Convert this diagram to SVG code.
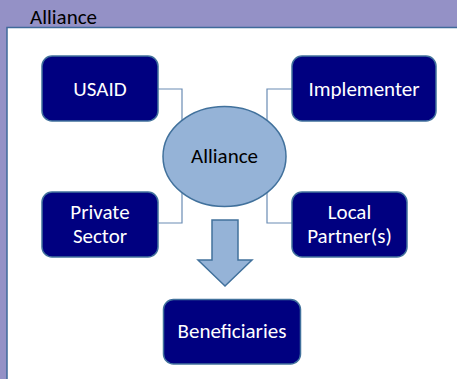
<svg xmlns="http://www.w3.org/2000/svg" width="457" height="379" viewBox="0 0 457 379">
<style>
.box{fill:#000080;stroke:#41719C;stroke-width:1.5}
.lbl{font-family:Calibri,"Carlito","Liberation Sans",sans-serif;font-size:21px;fill:#ffffff;text-anchor:middle}
.conn{fill:none;stroke:#6A8CB4;stroke-width:1.2}
</style>
<rect x="0" y="0" width="457" height="379" fill="#9491C6"/>
<rect x="7" y="27.5" width="455" height="360" fill="#ffffff" stroke="#3F6A9A" stroke-width="1.5"/>
<text x="30" y="24" font-family="Calibri,'Carlito','Liberation Sans',sans-serif" font-size="21" fill="#000000">Alliance</text>
<g id="connectors">
<polyline class="conn" points="158,89 182,89 182,121"/>
<polyline class="conn" points="158,223 182,223 182,192"/>
<polyline class="conn" points="292,89 267,89 267,121"/>
<polyline class="conn" points="292,223 267,223 267,192"/>
</g>
<g id="usaid">
<rect class="box" x="42" y="56" width="116" height="65" rx="10"/>
<text class="lbl" x="100" y="96">USAID</text>
</g>
<g id="implementer">
<rect class="box" x="292" y="56" width="144" height="65" rx="10"/>
<text class="lbl" x="364" y="96">Implementer</text>
</g>
<g id="private">
<rect class="box" x="42" y="192" width="116" height="65" rx="10"/>
<text class="lbl" x="100" y="219">Private</text>
<text class="lbl" x="100" y="243">Sector</text>
</g>
<g id="local">
<rect class="box" x="292" y="192" width="115" height="65" rx="10"/>
<text class="lbl" x="349.5" y="219">Local</text>
<text class="lbl" x="349.5" y="243">Partner(s)</text>
</g>
<g id="alliance">
<ellipse cx="224.5" cy="156.5" rx="61.5" ry="50" fill="#95B3D7" stroke="#41719C" stroke-width="1.5"/>
<text x="224.5" y="163" font-family="Calibri,'Carlito','Liberation Sans',sans-serif" font-size="21" fill="#000000" text-anchor="middle">Alliance</text>
</g>
<g id="arrow">
<polygon points="212,220 238,220 238,260 252,260 225,286 198,260 212,260" fill="#95B3D7" stroke="#41719C" stroke-width="1.5"/>
</g>
<g id="beneficiaries">
<rect class="box" x="163.5" y="299.5" width="137" height="64.5" rx="10"/>
<text class="lbl" x="232" y="338">Beneficiaries</text>
</g>
</svg>
